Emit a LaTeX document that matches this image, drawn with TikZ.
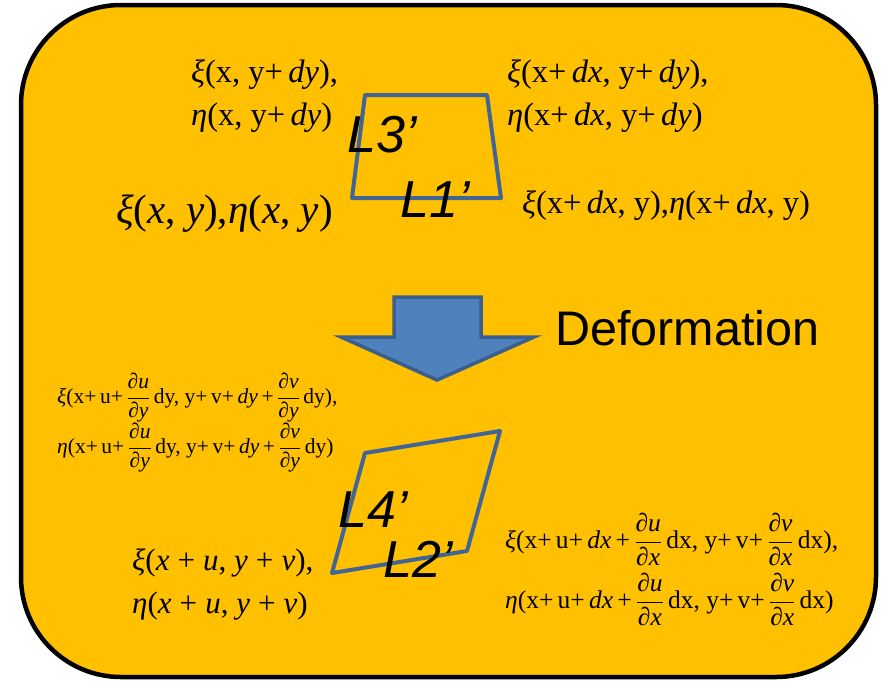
\documentclass[tikz,border=0pt]{standalone}
\usepackage{fontspec}
\setmainfont{Liberation Serif}
\newfontfamily\arialf{Liberation Sans}
\definecolor{gold}{HTML}{FFC000}
\definecolor{quadblue}{RGB}{66,101,150}
\definecolor{arrowfill}{HTML}{4F81BD}
\definecolor{arrowedge}{HTML}{3A5F8D}
\newcommand\pdfr[2]{$\displaystyle{\hbox{\textit{∂#1}}\over\hbox{\textit{∂#2}}}$}
\newcommand\bsp{\hspace{0.26em}}
\tikzset{
  lbl/.style={inner sep=0pt, anchor=base west},
  fa/.style={lbl, font=\fontsize{32.5}{34}\selectfont},
  fbig/.style={lbl, font=\fontsize{41}{43}\selectfont},
  fsmall/.style={lbl, font=\fontsize{21.5}{23}\selectfont},
  fmid/.style={lbl, font=\fontsize{25.5}{27}\selectfont},
  fuv/.style={lbl, font=\fontsize{31}{33}\selectfont},
  ltag/.style={lbl, font=\arialf\itshape\fontsize{52}{53}\selectfont},
  quad/.style={draw=quadblue, line width=4pt, line join=round},
}
\begin{document}
\begin{tikzpicture}[x=1pt,y=-1pt]
\useasboundingbox (0,0) rectangle (882,680);
\draw[line width=4.5pt, fill=gold, rounded corners=100pt] (21,5) rectangle (876,677);

% top (undeformed) element
\coordinate (a1) at (352,198);
\coordinate (a2) at (501,198);
\coordinate (a3) at (487,95);
\coordinate (a4) at (365,95);
\draw[quad] (a1) -- (a2) -- (a3) -- (a4) -- cycle;

\node[fa] (t1) at (191,82) {\textit{ξ}(x, y+\,\textit{dy}),};
\node[fa] (t2) at (191,125) {\textit{η}(x, y+\,\textit{dy})};
\node[fa] (t3) at (507,82) {\textit{ξ}(x+\,\textit{dx}, y+\,\textit{dy}),};
\node[fa] (t4) at (507,125) {\textit{η}(x+\,\textit{dx}, y+\,\textit{dy})};
\node[fbig] (t5) at (116,223) {\textit{ξ}(\textit{x}, \textit{y}),\textit{η}(\textit{x}, \textit{y})};
\node[fa] (t6) at (522,213) {\textit{ξ}(x+\,\textit{dx}, y),\textit{η}(x+\,\textit{dx}, y)};

\node[ltag] (L3) at (347,152) {L3’};
\node[ltag] (L1) at (400,217) {L1’};

% arrow
\draw[draw=arrowedge, fill=arrowfill, line width=3.5pt, line join=miter]
  (394,297) -- (481,297) -- (481,337) -- (534,337) -- (437,380) -- (341,337) -- (394,337) -- cycle;
\node[lbl, font=\arialf\fontsize{48.5}{50}\selectfont] (def) at (555,345) {Deformation};

% bottom (deformed) element
\coordinate (b1) at (332,573);
\coordinate (b2) at (467,551);
\coordinate (b3) at (500,431);
\coordinate (b4) at (365,453);
\draw[quad] (b1) -- (b2) -- (b3) -- (b4) -- cycle;

\node[ltag] (L4) at (338,527) {L4’};
\node[ltag] (L2) at (383,577) {L2’};

\node[fsmall] (s1) at (57,403) {\textit{ξ}(x+\,u+\,\pdfr{u}{y}\,dy, y+\,v+\,\textit{dy}\,+\,\pdfr{v}{y}\,dy),};
\node[fsmall] (s2) at (57,453) {\textit{η}(x+\,u+\,\pdfr{u}{y}\,dy, y+\,v+\,\textit{dy}\,+\,\pdfr{v}{y}\,dy)};

\node[fuv] (u1) at (132,570) {\textit{ξ}(\textit{x}\bsp+\bsp\textit{u}, \textit{y}\bsp+\bsp\textit{v}),};
\node[fuv] (u2) at (132,613) {\textit{η}(\textit{x}\bsp+\bsp\textit{u}, \textit{y}\bsp+\bsp\textit{v})};

\node[fmid] (m1) at (505,548) {\textit{ξ}(x+\,u+\,\textit{dx}\,+\,\pdfr{u}{x}\,dx, y+\,v+\,\pdfr{v}{x}\,dx),};
\node[fmid] (m2) at (505,608) {\textit{η}(x+\,u+\,\textit{dx}\,+\,\pdfr{u}{x}\,dx, y+\,v+\,\pdfr{v}{x}\,dx)};
\end{tikzpicture}
\end{document}
